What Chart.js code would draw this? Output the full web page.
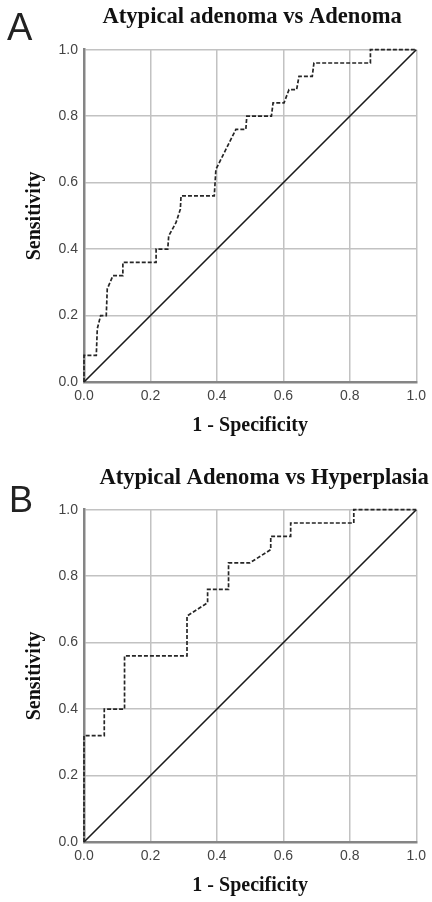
<!DOCTYPE html>
<html>
<head>
<meta charset="utf-8">
<script src="https://cdn.jsdelivr.net/npm/chart.js@4"></script>
<style>
  html, body { margin: 0; padding: 0; background: #fff; }
  #page { position: relative; width: 432px; height: 902px; overflow: hidden; }
  .panel { position: absolute; left: 0; width: 432px; }
  .tag { position: absolute; font-family: "Liberation Sans", Arial, sans-serif; line-height: 1; color: #222; }
</style>
</head>
<body>
<div id="page">
  <div class="panel" style="top:0;height:452px"><canvas id="rocA"></canvas></div>
  <div class="panel" style="top:452px;height:450px"><canvas id="rocB"></canvas></div>
  <div class="tag" style="left:7px;top:8px;font-size:38px">A</div>
  <div class="tag" style="left:9px;top:482px;font-size:36px">B</div>
</div>
<script>
// tick values shared by both axes
const axisTicks = [0, 0.2, 0.4, 0.6, 0.8, 1.0];

// A: atypical adenoma vs adenoma (1 - specificity, sensitivity)
const fprA = [0, 0, 0.037, 0.04, 0.05, 0.067, 0.07, 0.087, 0.117, 0.117,
  0.217, 0.217, 0.252, 0.255, 0.277, 0.29, 0.292, 0.392, 0.397, 0.417,
  0.437, 0.457, 0.487, 0.49, 0.564, 0.569, 0.602, 0.617, 0.64, 0.647,
  0.687, 0.692, 0.862, 0.862, 1];
const tprA = [0, 0.08, 0.08, 0.16, 0.2, 0.2, 0.28, 0.32, 0.32, 0.36,
  0.36, 0.40, 0.40, 0.44, 0.48, 0.52, 0.56, 0.56, 0.64, 0.68,
  0.72, 0.76, 0.76, 0.80, 0.80, 0.84, 0.84, 0.88, 0.88, 0.92,
  0.92, 0.96, 0.96, 1, 1];

// B: atypical adenoma vs hyperplasia
const fprB = [0, 0, 0.061, 0.061, 0.122, 0.122, 0.31, 0.31, 0.372, 0.372,
  0.435, 0.435, 0.499, 0.562, 0.562, 0.622, 0.622, 0.812, 0.812, 1];
const tprB = [0, 0.32, 0.32, 0.40, 0.40, 0.56, 0.56, 0.68, 0.72, 0.76,
  0.76, 0.84, 0.84, 0.88, 0.92, 0.92, 0.96, 0.96, 1, 1];

// chance line
const refLine = [0, 1];

const serif = "'Liberation Serif', 'Times New Roman', serif";
const sans = "'Liberation Sans', Arial, sans-serif";

// nudge the title sideways (SPSS centres it on the whole frame, not the plot)
const titleShift = {
  id: "titleShift",
  afterLayout(chart, args, opts) {
    const t = chart.titleBlock;
    if (t && opts.dx) {
      t.left += opts.dx;
      t.right += opts.dx;
    }
  },
};

function makeRoc(id, title, fpr, tpr, titlePad, bottomPad, dx) {
  const axis = (label, horizontal) => ({
    type: "linear",
    min: 0,
    max: 1,
    afterBuildTicks: (scale) => { scale.ticks = axisTicks.map((v) => ({ value: v })); },
    afterFit: (scale) => {
      if (horizontal) scale.height = 58;
      else scale.width = 84;
    },
    ticks: {
      padding: 6,
      color: "#444",
      font: { family: sans, size: 14 },
      callback: (v) => Number(v).toFixed(1),
    },
    grid: { color: "#c2c2c2", lineWidth: 1.5, drawTicks: false },
    border: { color: "#858585", width: 2.5 },
    title: {
      display: true,
      text: label,
      color: "#111",
      font: { family: serif, size: 20, weight: "bold" },
      padding: horizontal ? { top: 0, bottom: 2 } : { top: 22.5, bottom: 0 },
    },
  });

  return new Chart(document.getElementById(id), {
    type: "scatter",
    data: {
      datasets: [
        {
          label: "ROC",
          data: fpr.map((x, i) => ({ x: x, y: tpr[i] })),
          showLine: true,
          borderColor: "#262626",
          borderWidth: 1.7,
          borderDash: [4, 2],
          pointRadius: 0,
          tension: 0,
          clip: 4,
        },
        {
          label: "Reference",
          data: refLine.map((v) => ({ x: v, y: v })),
          showLine: true,
          borderColor: "#1a1a1a",
          borderWidth: 1.6,
          pointRadius: 0,
          clip: 4,
        },
      ],
    },
    plugins: [titleShift],
    options: {
      responsive: true,
      maintainAspectRatio: false,
      animation: false,
      layout: { padding: { left: 0, right: 14, top: 0, bottom: bottomPad } },
      plugins: {
        legend: { display: false },
        tooltip: { enabled: false },
        titleShift: { dx: dx },
        title: {
          display: true,
          text: title,
          fullSize: false,
          color: "#111",
          font: { family: serif, size: 22.6, weight: "bold" },
          padding: titlePad,
        },
      },
      scales: {
        x: axis("1 - Specificity", true),
        y: axis("Sensitivity", false),
      },
    },
  });
}

makeRoc("rocA", "Atypical adenoma vs Adenoma", fprA, tprA, { top: 4, bottom: 18.6 }, 12, 2);
makeRoc("rocB", "Atypical Adenoma vs Hyperplasia", fprB, tprB, { top: 12.4, bottom: 18.2 }, 2, 14);
</script>
</body>
</html>
